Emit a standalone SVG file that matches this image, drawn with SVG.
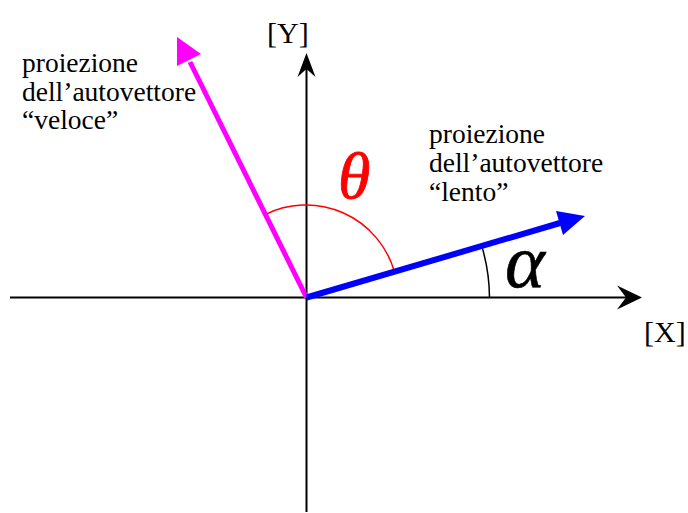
<svg xmlns="http://www.w3.org/2000/svg" width="688" height="513" viewBox="0 0 688 513">
<style>
.lbl{font-family:"Liberation Serif","Times New Roman",serif;font-size:27.5px;fill:#000}
.ax{font-family:"Liberation Serif","Times New Roman",serif;font-size:30px;fill:#000}
.axis{stroke:#000;stroke-width:2;fill:none}
.sym{font-family:"Liberation Serif","Times New Roman",serif;font-style:italic}
</style>
<rect width="688" height="513" fill="#fff"/>
<g id="connectors">
  <line class="axis" x1="10" y1="297.5" x2="628" y2="297.5"/>
  <polygon points="642,297.5 617,285.5 626,297.5 617,309.5" fill="#000"/>
  <line class="axis" x1="306.5" y1="512" x2="306.5" y2="68"/>
  <polygon points="306.5,53 297.5,77 306.5,69 315.5,77" fill="#000"/>
  <path d="M265.1,214.6 A92,92 0 0 1 394.3,271.3" stroke="#f00" stroke-width="1.5" fill="none"/>
  <path d="M481.7,245.9 A183,183 0 0 1 489.5,297.5" stroke="#000" stroke-width="1.5" fill="none"/>
  <line x1="306.5" y1="297.5" x2="190" y2="62" stroke="#f0f" stroke-width="5"/>
  <polygon points="177,37 201,54 177,66" fill="#f0f"/>
  <line x1="306.5" y1="297.5" x2="560" y2="223" stroke="#00f" stroke-width="6"/>
  <polygon points="585,216 556,211 563,235" fill="#00f"/>
</g>
<g id="axis-y-label"><text class="ax" x="267" y="43">[Y]</text></g>
<g id="axis-x-label"><text class="ax" x="644" y="342">[X]</text></g>
<g id="label-veloce">
  <text class="lbl" x="22" y="72">proiezione</text>
  <text class="lbl" x="22" y="100.5">dell’autovettore</text>
  <text class="lbl" x="22" y="129">“veloce”</text>
</g>
<g id="label-lento">
  <text class="lbl" x="429" y="143">proiezione</text>
  <text class="lbl" x="429" y="172">dell’autovettore</text>
  <text class="lbl" x="429" y="201">“lento”</text>
</g>
<g id="theta"><text class="sym" x="338" y="198" font-size="66" fill="#f00" stroke="#f00" stroke-width="0.8">θ</text></g>
<g id="alpha"><text class="sym" x="505" y="287" font-size="76" fill="#000" stroke="#000" stroke-width="0.6">α</text></g>
</svg>
